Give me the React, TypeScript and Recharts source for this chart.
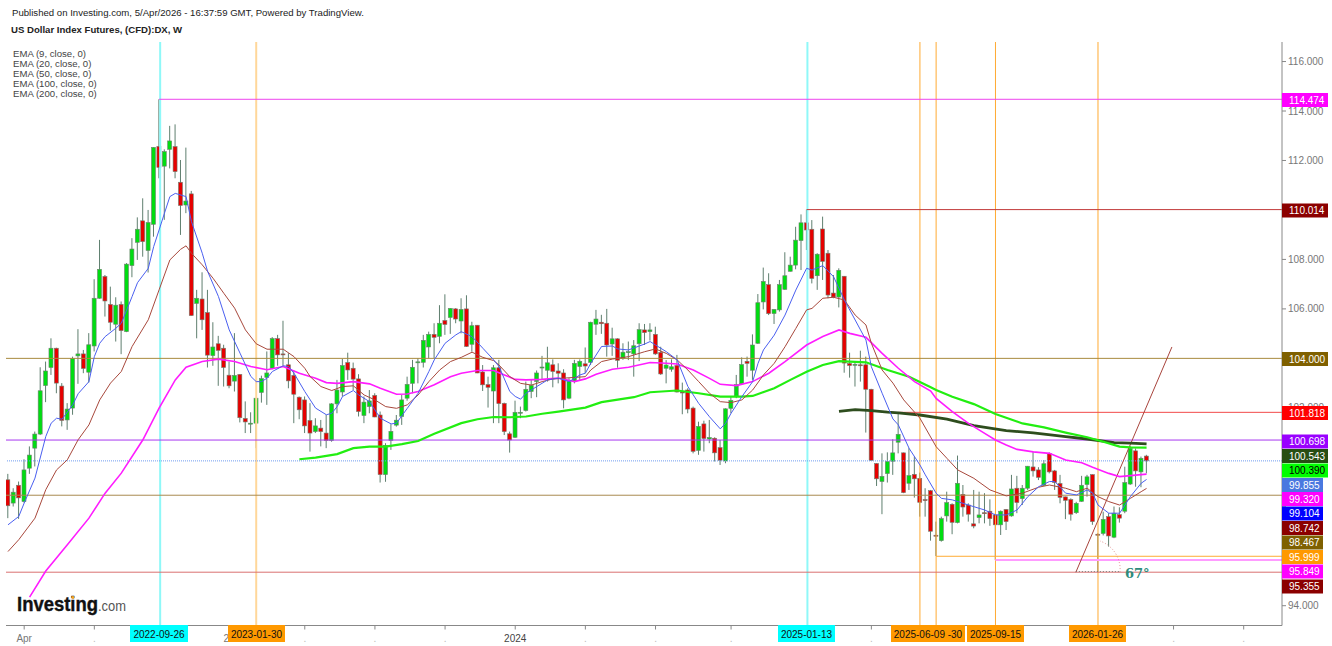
import React from 'react';
import { ComposedChart, Bar, Line, XAxis, YAxis, ReferenceLine } from 'recharts';

const FONT_FAMILY = '"Liberation Sans", Arial, sans-serif';

// weekly candles, index 0 = 2022-03-14, index 211 = 2026-03-30
const OPEN = [
    99.09, 98.15, 98.87, 98.21, 99.56, 100.37, 100.94, 102.90, 103.63, 104.41,
    102.88, 101.51, 101.99, 104.10, 104.18, 103.44, 104.50, 106.43, 107.31, 106.18,
    105.38, 106.18, 105.08, 107.75, 108.69, 109.56, 108.36, 109.42, 112.57, 111.77,
    112.45, 112.56, 111.12, 110.20, 110.65, 106.22, 106.40, 105.85, 104.11, 104.59,
    104.41, 103.32, 103.08, 103.35, 101.57, 101.34, 101.38, 102.62, 103.23, 103.60,
    104.80, 104.18, 103.74, 103.31, 102.43, 102.32, 101.49, 101.04, 101.18, 100.98,
    100.68, 102.16, 102.64, 103.83, 103.60, 103.17, 101.69, 102.05, 102.50, 101.71,
    99.30, 100.68, 101.30, 101.65, 102.39, 102.99, 103.82, 103.84, 104.46, 104.97,
    104.89, 105.53, 105.65, 106.00, 105.51, 106.00, 104.57, 105.34, 103.45, 102.94,
    102.68, 103.62, 102.18, 100.95, 100.81, 101.78, 101.89, 102.66, 103.06, 103.61,
    103.52, 103.74, 103.49, 103.41, 102.39, 103.06, 103.67, 103.78, 103.84, 105.38,
    105.46, 105.42, 104.58, 104.79, 104.00, 104.23, 104.18, 104.59, 105.15, 105.08,
    104.97, 104.24, 103.60, 103.56, 103.71, 102.64, 102.72, 101.99, 100.28, 101.35,
    100.74, 100.77, 100.39, 99.85, 101.98, 102.45, 102.97, 103.88, 103.52, 104.61,
    106.28, 106.98, 105.81, 105.96, 106.79, 107.52, 107.77, 108.76, 109.48, 109.22,
    107.34, 109.23, 108.25, 106.64, 106.48, 107.32, 103.79, 103.74, 103.74, 103.74,
    102.75, 99.75, 99.02, 99.34, 99.84, 100.61, 100.18, 98.95, 99.31, 99.15,
    98.29, 98.65, 96.85, 96.63, 97.63, 98.10, 97.36, 98.50, 98.07, 97.31,
    97.56, 97.76, 97.82, 97.67, 97.27, 97.89, 97.63, 98.75, 98.33, 98.75,
    99.61, 99.49, 98.87, 100.16, 99.45, 98.94, 98.40, 98.29, 97.76, 98.22,
    98.90, 99.30, 96.89, 96.92, 97.60, 96.77, 97.68, 97.82, 98.92, 100.26,
    99.41, 100.05,
];
const HIGH = [
    99.33, 98.75, 99.02, 99.92, 100.44, 101.04, 103.64, 103.87, 104.81, 104.43,
    103.00, 102.19, 104.07, 105.18, 104.34, 105.02, 107.20, 108.79, 107.37, 106.90,
    106.47, 106.30, 107.85, 108.86, 109.70, 110.47, 110.00, 112.53, 114.474, 112.45,
    113.40, 113.46, 112.02, 112.52, 110.77, 106.77, 107.48, 106.77, 105.46, 104.91,
    104.55, 103.87, 105.02, 103.36, 102.26, 101.82, 102.39, 103.30, 104.28, 104.86,
    104.95, 105.52, 104.21, 103.51, 102.46, 102.46, 102.19, 101.58, 101.51, 101.72,
    102.19, 103.13, 103.98, 104.23, 103.83, 103.36, 102.46, 102.72, 102.59, 101.85,
    100.57, 101.34, 101.71, 102.52, 103.26, 103.94, 104.00, 104.95, 105.08, 105.42,
    106.15, 106.59, 106.03, 106.03, 106.43, 106.55, 105.48, 105.35, 103.73, 103.26,
    103.73, 103.94, 102.21, 101.04, 102.29, 102.05, 103.06, 103.13, 103.51, 104.10,
    104.47, 103.96, 103.80, 103.56, 103.20, 103.94, 103.96, 104.44, 105.48, 105.96,
    105.76, 106.00, 105.24, 104.81, 104.61, 104.68, 104.74, 105.42, 105.39, 105.42,
    105.28, 104.47, 103.93, 103.96, 104.14, 103.02, 102.79, 102.05, 101.44, 101.48,
    101.51, 100.81, 100.70, 101.98, 102.45, 103.33, 104.04, 104.07, 104.97, 106.60,
    107.67, 107.44, 105.98, 107.17, 108.29, 108.11, 109.32, 109.82, 110.014, 109.59,
    108.25, 109.73, 108.38, 107.37, 107.64, 107.33, 104.23, 103.89, 104.31, 104.07,
    102.77, 99.76, 100.16, 100.20, 100.73, 101.78, 100.19, 100.37, 100.03, 99.38,
    98.75, 98.68, 97.40, 97.60, 98.61, 98.14, 100.07, 98.88, 98.14, 98.68,
    98.61, 98.55, 98.30, 97.74, 97.85, 97.91, 99.29, 99.25, 98.88, 99.65,
    100.23, 99.60, 99.89, 100.20, 99.49, 99.29, 98.41, 98.34, 98.20, 99.25,
    99.29, 99.31, 96.93, 97.80, 97.74, 98.01, 97.98, 99.62, 100.46, 100.36,
    100.03, 100.10,
];
const LOW = [
    97.54, 98.01, 97.51, 98.17, 99.33, 99.63, 100.90, 102.23, 103.33, 102.59,
    101.25, 101.11, 101.72, 102.97, 103.40, 103.02, 104.28, 106.41, 105.69, 105.12,
    104.68, 104.17, 105.06, 107.28, 107.98, 108.11, 107.47, 108.92, 111.28, 109.60,
    111.68, 111.28, 108.99, 109.87, 105.72, 104.81, 105.15, 103.63, 103.70, 102.89,
    102.86, 102.79, 102.66, 101.41, 100.98, 100.98, 100.37, 102.21, 102.12, 103.56,
    103.70, 103.70, 102.79, 101.38, 101.54, 100.98, 100.23, 100.98, 100.44, 100.37,
    100.63, 101.78, 102.46, 103.13, 102.72, 101.65, 101.38, 101.78, 101.62, 98.98,
    99.01, 100.30, 101.24, 101.31, 102.29, 102.59, 102.99, 103.63, 104.00, 104.00,
    104.61, 104.95, 104.99, 105.42, 105.01, 104.46, 104.27, 103.40, 102.68, 102.01,
    101.38, 101.38, 100.90, 100.19, 100.78, 101.58, 101.85, 102.39, 102.43, 103.13,
    103.06, 102.83, 102.99, 101.98, 102.35, 102.99, 103.13, 103.40, 103.73, 104.95,
    104.99, 104.07, 104.10, 103.62, 103.94, 103.93, 103.26, 103.89, 104.54, 104.72,
    104.14, 103.33, 102.99, 103.46, 102.62, 101.74, 101.78, 100.16, 100.10, 100.23,
    100.57, 99.83, 99.69, 99.76, 101.78, 102.39, 102.93, 103.26, 103.13, 104.58,
    105.98, 105.75, 105.39, 105.89, 106.77, 107.51, 107.60, 107.57, 108.38, 107.03,
    106.77, 107.17, 106.43, 106.43, 106.06, 103.42, 103.22, 102.86, 103.06, 101.00,
    99.85, 98.84, 97.70, 98.98, 99.29, 100.16, 98.55, 98.68, 98.37, 97.60,
    97.60, 96.63, 96.01, 96.59, 97.40, 96.89, 97.33, 97.60, 97.40, 97.13,
    97.33, 97.33, 97.23, 95.85, 96.86, 97.06, 97.60, 97.74, 98.07, 98.68,
    99.22, 99.08, 98.84, 99.35, 98.68, 98.14, 97.50, 97.44, 97.71, 98.20,
    98.41, 97.27, 95.355, 96.84, 96.39, 96.73, 97.36, 97.74, 98.88, 98.81,
    98.79, 99.35,
];
const CLOSE = [
    98.04, 98.59, 98.36, 99.49, 100.09, 100.94, 102.69, 103.49, 104.41, 103.00,
    101.49, 101.95, 103.99, 104.18, 103.59, 104.55, 106.43, 107.60, 106.32, 105.46,
    106.15, 105.12, 107.81, 108.42, 109.22, 108.72, 109.49, 112.53, 111.72, 112.36,
    112.79, 111.55, 110.18, 110.36, 105.73, 106.43, 105.56, 104.13, 104.46, 104.32,
    103.63, 102.89, 103.31, 101.60, 101.43, 101.38, 102.39, 103.18, 103.41, 104.80,
    104.14, 104.14, 103.09, 102.55, 101.92, 101.27, 100.98, 101.27, 101.04, 100.68,
    102.16, 102.72, 103.71, 103.53, 103.16, 101.85, 102.23, 102.28, 101.63, 99.30,
    100.48, 101.05, 101.50, 102.32, 102.95, 103.64, 103.86, 104.73, 104.97, 104.85,
    105.42, 105.37, 106.02, 105.59, 105.98, 104.48, 105.32, 103.41, 102.93, 102.83,
    103.62, 102.17, 101.04, 100.70, 101.82, 101.82, 102.75, 102.91, 103.41, 103.65,
    103.82, 103.47, 103.40, 102.32, 103.06, 103.80, 103.88, 103.69, 105.46, 105.59,
    105.40, 104.54, 104.79, 103.92, 104.25, 104.27, 104.51, 105.16, 105.04, 105.15,
    104.18, 103.37, 103.73, 103.66, 102.64, 102.62, 101.95, 100.24, 101.25, 100.76,
    100.80, 100.18, 99.88, 101.96, 102.30, 102.94, 103.75, 103.80, 104.54, 106.25,
    107.11, 105.81, 105.98, 106.98, 107.34, 107.77, 108.78, 109.48, 109.19, 107.23,
    108.21, 107.92, 106.56, 106.48, 107.56, 103.81, 103.71, 103.76, 103.71, 102.75,
    99.88, 99.13, 99.23, 99.83, 100.18, 100.93, 98.57, 99.26, 99.13, 98.18,
    98.26, 97.01, 96.82, 97.52, 98.17, 97.37, 98.95, 97.99, 97.70, 97.22,
    97.67, 97.72, 97.52, 97.27, 97.82, 97.40, 98.72, 98.17, 98.75, 99.64,
    99.45, 99.19, 99.74, 99.41, 98.98, 98.38, 98.26, 97.70, 98.14, 98.87,
    99.21, 97.40, 96.85, 97.49, 96.82, 97.74, 97.54, 98.98, 100.36, 99.45,
    99.96, 99.855,
];

// EMA readings, [week index, value]
const EMA9: [number, number][] = [
    [0, 97.27], [2, 97.61], [3, 98.15], [5, 99.16], [7, 100.84], [8, 101.38], [9, 101.58], [10, 101.54], [12, 102.12],
    [13, 102.57], [15, 103.06], [16, 104.07], [17, 104.61], [18, 104.88], [20, 105.22], [21, 105.42], [23, 106.50],
    [24, 107.06], [26, 107.64], [27, 108.52], [28, 109.19], [29, 109.87], [30, 110.54], [31, 110.67], [33, 110.54],
    [34, 109.53], [36, 108.25], [37, 107.51], [39, 106.50], [41, 105.15], [43, 104.21], [45, 103.27], [46, 103.06],
    [47, 103.06], [48, 103.20], [49, 103.47], [51, 103.70], [52, 103.67], [53, 103.40], [55, 102.66], [57, 101.99],
    [59, 101.72], [60, 101.78], [61, 102.05], [62, 102.46], [64, 102.70], [65, 102.52], [67, 102.25], [69, 101.58],
    [71, 101.35], [72, 101.38], [74, 101.98], [76, 102.59], [78, 103.47], [79, 103.94], [81, 104.61], [83, 104.95],
    [84, 105.08], [86, 104.88], [88, 104.41], [90, 103.94], [91, 103.67], [93, 102.66], [94, 102.46], [95, 102.35],
    [96, 102.59], [98, 102.86], [100, 103.13], [102, 103.20], [104, 103.06], [106, 103.33], [107, 103.40], [108, 103.80],
    [110, 104.48], [112, 104.50], [113, 104.38], [115, 104.34], [118, 104.58], [119, 104.68], [120, 104.54], [122, 104.27],
    [124, 103.94], [126, 102.86], [128, 102.18], [130, 101.64], [132, 101.15], [133, 101.38], [134, 101.78], [136, 102.45],
    [138, 103.06], [139, 103.80], [140, 104.34], [142, 104.94], [144, 105.75], [146, 106.76], [148, 107.64], [149, 107.57],
    [151, 107.75], [153, 107.30], [155, 106.36], [157, 105.55], [159, 104.74], [160, 103.66], [162, 102.59], [164, 101.55],
    [165, 101.31], [167, 100.36], [169, 99.69], [170, 99.29], [172, 98.55], [173, 98.34], [175, 98.28], [178, 98.07],
    [181, 97.87], [183, 97.67], [185, 97.67], [187, 97.87], [189, 98.41], [191, 98.81], [193, 99.02], [194, 99.02],
    [196, 98.55], [198, 98.48], [200, 98.68], [201, 98.55], [202, 98.07], [204, 97.74], [206, 97.74], [207, 98.07],
    [208, 98.41], [210, 98.95], [211, 99.104],
];
const EMA20: [number, number][] = [
    [0, 96.19], [2, 96.67], [5, 97.54], [7, 98.69], [9, 99.49], [11, 99.90], [13, 100.71], [15, 101.31], [17, 102.32],
    [19, 103.00], [21, 103.47], [23, 104.48], [26, 105.56], [28, 106.77], [30, 107.98], [32, 108.41], [33, 108.55],
    [34, 108.25], [36, 107.78], [38, 107.24], [40, 106.63], [42, 106.03], [44, 105.15], [46, 104.59], [48, 104.37],
    [51, 104.37], [53, 104.07], [55, 103.60], [56, 103.26], [58, 102.86], [60, 102.70], [62, 102.86], [64, 102.89],
    [66, 102.52], [68, 102.32], [70, 102.05], [72, 101.98], [74, 102.12], [76, 102.52], [78, 103.06], [80, 103.53],
    [82, 103.87], [84, 104.04], [86, 104.25], [88, 104.04], [90, 103.91], [91, 103.73], [93, 103.26], [95, 102.99],
    [97, 102.92], [99, 103.06], [101, 103.17], [103, 103.20], [107, 103.26], [108, 103.53], [110, 103.87], [112, 103.97],
    [115, 104.07], [118, 104.27], [120, 104.38], [122, 104.20], [124, 103.94], [126, 103.53], [128, 103.06], [130, 102.59],
    [132, 102.25], [134, 102.21], [136, 102.32], [138, 102.72], [140, 103.33], [142, 103.80], [144, 104.47], [146, 105.21],
    [148, 105.96], [149, 106.02], [151, 106.43], [153, 106.47], [155, 106.36], [157, 105.75], [159, 105.35], [160, 104.61],
    [162, 103.53], [164, 103.00], [166, 102.32], [169, 101.58], [172, 100.43], [174, 99.96], [176, 99.49], [179, 99.15],
    [182, 98.68], [185, 98.44], [188, 98.55], [191, 98.79], [193, 98.88], [196, 98.75], [198, 98.61], [200, 98.75],
    [202, 98.41], [204, 98.21], [206, 98.07], [208, 98.34], [210, 98.61], [211, 98.742],
];
const EMA50: [number, number][] = [
    [4, 94.35], [7, 95.40], [11, 96.46], [15, 97.54], [18, 98.55], [21, 99.36], [25, 100.71], [28, 101.99], [31, 103.13],
    [33, 103.64], [36, 103.87], [39, 103.97], [42, 103.87], [45, 103.67], [48, 103.54], [51, 103.67], [54, 103.40],
    [57, 103.20], [59, 103.02], [61, 102.99], [64, 103.06], [67, 102.97], [69, 102.79], [72, 102.55], [74, 102.56],
    [76, 102.66], [79, 102.93], [82, 103.26], [84, 103.40], [87, 103.51], [90, 103.51], [92, 103.33], [94, 103.15],
    [96, 103.13], [99, 103.15], [102, 103.20], [105, 103.06], [107, 103.17], [109, 103.36], [112, 103.56], [115, 103.64],
    [119, 103.83], [122, 103.80], [124, 103.77], [127, 103.53], [130, 103.19], [132, 102.95], [135, 102.90], [138, 103.06],
    [141, 103.40], [144, 103.87], [148, 104.54], [151, 104.88], [154, 105.15], [156, 105.01], [159, 104.85], [162, 104.20],
    [165, 103.60], [168, 103.06], [171, 102.68], [172, 102.38], [175, 101.85], [178, 101.37], [181, 100.97], [183, 100.70],
    [185, 100.50], [187, 100.32], [190, 100.22], [193, 100.16], [196, 99.89], [199, 99.78], [201, 99.60], [204, 99.35],
    [206, 99.22], [208, 99.26], [211, 99.32],
];
const EMA100: [number, number][] = [
    [54, 99.92], [57, 99.99], [61, 100.13], [64, 100.37], [67, 100.43], [70, 100.43], [73, 100.53], [76, 100.66], [79, 100.95],
    [84, 101.38], [87, 101.54], [90, 101.63], [93, 101.62], [96, 101.65], [99, 101.76], [102, 101.85], [107, 102.01],
    [110, 102.23], [116, 102.43], [119, 102.63], [124, 102.70], [128, 102.59], [132, 102.45], [136, 102.45], [138, 102.48],
    [142, 102.79], [145, 103.13], [148, 103.46], [151, 103.73], [154, 103.89], [159, 103.84], [163, 103.53], [167, 103.26],
    [171, 102.83], [172, 102.72], [175, 102.45], [179, 102.15], [183, 101.75], [188, 101.37], [192, 101.21], [196, 101.00],
    [200, 100.81], [203, 100.63], [206, 100.43], [208, 100.40], [211, 100.39],
];
const EMA200: [number, number][] = [
    [154, 101.86], [157, 101.93], [160, 101.89], [163, 101.83], [165, 101.80], [169, 101.71], [174, 101.54], [179, 101.28],
    [185, 101.08], [190, 100.99], [196, 100.84], [200, 100.74], [205, 100.59], [208, 100.57], [211, 100.543],
];

const PRICE_TICKS = [94, 96, 98, 100, 102, 104, 106, 108, 110, 112, 114, 116];
// these three sit fully under a price badge in the picture
const COVERED_PRICES = [96, 98, 100];
const TIME_TICKS = [3, 16, 29, 42, 55, 68, 81, 94, 107, 120, 134, 147, 160, 173, 186, 199, 216, 229];
const TIME_LABELS: Record<number, string> = { 3: 'Apr', 42: '2023', 94: '2024' };
const COVERED_TIMES = [29, 147, 173, 186, 199];

// horizontal levels: price, first week, colour
const LEVELS: [number, number, string][] = [
    [114.474, 28, '#ee44ee'],
    [110.014, 148, '#c23a3a'],
    [104.0, -1, '#a88a3e'],
    [101.818, 165, '#f24a4a'],
    [100.698, -1, '#a838f0'],
    [98.467, -1, '#a88a50'],
    [95.999, 172, '#ffab33'],
    [95.355, -1, '#d97070'],
];
const PINK_LEVEL = 95.849;
const LAST_PRICE = 99.855;
const CYAN_WEEKS = [28.2, 148.15];
const ORANGE_WEEKS = [169, 172, 183, 202];
const WIDE_ORANGE_WEEK = 46;

const PRICE_BADGES = [
    { text: '114.474', bg: '#ff00ff', fg: '#fff' },
    { text: '110.014', bg: '#8b0000', fg: '#fff' },
    { text: '104.000', bg: '#7f6000', fg: '#fff' },
    { text: '101.818', bg: '#ff0000', fg: '#fff' },
    { text: '100.698', bg: '#9900ff', fg: '#fff' },
    { text: '100.543', bg: '#274e13', fg: '#fff' },
    { text: '100.390', bg: '#00ff00', fg: '#000' },
    { text: '99.855', bg: '#4a78e0', fg: '#fff' },
    { text: '99.320', bg: '#ff00ff', fg: '#fff' },
    { text: '99.104', bg: '#0000ff', fg: '#fff' },
    { text: '98.742', bg: '#8b0000', fg: '#fff' },
    { text: '98.467', bg: '#7f6000', fg: '#fff' },
    { text: '95.999', bg: '#ff9900', fg: '#fff' },
    { text: '95.849', bg: '#ff00ff', fg: '#fff' },
    { text: '95.355', bg: '#8b0000', fg: '#fff' },
];
// the axis stacks these so they do not collide
const PRICE_BADGE_Y = [100, 210.5, 359, 413, 441.5, 456, 470.5, 485, 499, 513.5, 528, 542.5, 557, 571.5, 586.5];

const DATE_BADGES = [
    { text: '2022-09-26', bg: '#00ffff', x: 130, w: 58 },
    { text: '2023-01-30', bg: '#ff9900', x: 228, w: 57 },
    { text: '2025-01-13', bg: '#00ffff', x: 778, w: 57 },
    { text: '2025-06-09 -30', bg: '#ff9900', x: 891, w: 74 },
    { text: '2025-09-15', bg: '#ff9900', x: 967, w: 57 },
    { text: '2026-01-26', bg: '#ff9900', x: 1069, w: 57 },
];

const LEGEND = ['EMA (9, close, 0)', 'EMA (20, close, 0)', 'EMA (50, close, 0)', 'EMA (100, close, 0)', 'EMA (200, close, 0)'];

const rows: any[] = OPEN.map((open, i) => ({
    week: i,
    open,
    high: HIGH[i],
    low: LOW[i],
    close: CLOSE[i],
    range: [LOW[i], HIGH[i]],
}));
const addEma = (key: string, list: [number, number][]) => list.forEach(([w, v]) => { rows[w][key] = v; });
addEma('ema9', EMA9);
addEma('ema20', EMA20);
addEma('ema50', EMA50);
addEma('ema100', EMA100);
addEma('ema200', EMA200);

const XMIN = -0.37;
const XMAX = 236.1;

function Candle(props: any) {
    const { x, y, width, height, payload } = props;
    if (!payload) return null;
    const cx = x + width / 2;
    const unit = height / (payload.high - payload.low);
    const top = y + (payload.high - Math.max(payload.open, payload.close)) * unit;
    const bodyH = Math.max(Math.abs(payload.open - payload.close) * unit, 1);
    const up = payload.close >= payload.open;
    return (
        <g>
            <line x1={cx} x2={cx} y1={y} y2={y + height} stroke="#5f7f6f" strokeWidth={1} />
            <rect x={cx - 2} y={top} width={4} height={bodyH} fill={up ? '#00dd11' : '#e60000'} stroke="#6f7f70" strokeWidth={0.6} />
        </g>
    );
}

function TimeTick(props: any) {
    const { x, y, payload } = props;
    if (COVERED_TIMES.includes(payload.value)) return <g />;
    const label = TIME_LABELS[payload.value];
    const fill = label === '2024' ? '#444' : label ? '#777' : '#bbb';
    return (
        <text x={x} y={y + 10} textAnchor="middle" fontSize={10} fill={fill}>{label ?? '.'}</text>
    );
}

function Overlay() {
    return (
        <svg width={1332} height={646} style={{ position: 'absolute', left: 0, top: 0, fontFamily: FONT_FAMILY }}>
            <text x={12} y={16} fontSize={9.6} fill="#222">Published on Investing.com, 5/Apr/2026 - 16:37:59 GMT, Powered by TradingView.</text>
            <text x={11} y={33} fontSize={9.6} fontWeight={700} fill="#222">US Dollar Index Futures, (CFD):DX, W</text>
            {LEGEND.map((t, i) => (
                <text key={t} x={13} y={56.5 + i * 10} fontSize={9.6} fill="#444">{t}</text>
            ))}

            <path d="M1120 572 A 30 30 0 0 0 1100 541" fill="none" stroke="#e08a8a" strokeWidth={1} strokeDasharray="1 2" />
            <text x={1125} y={578} fontSize={13} fontWeight={700} fill="#2e8b7b" fontFamily='"DejaVu Serif", serif'>67°</text>

            <text x={17} y={611} fontSize={21} fontWeight={700} fill="#111" stroke="#111" strokeWidth={0.4} textLength={81} lengthAdjust="spacingAndGlyphs">Investing</text>
            <text x={98} y={611} fontSize={15} fill="#555" textLength={28} lengthAdjust="spacingAndGlyphs">.com</text>
            <circle cx={73} cy={597.5} r={1.4} fill="#f5a623" />

            {PRICE_BADGES.map((b, i) => (
                <g key={b.text}>
                    <rect x={1282} y={PRICE_BADGE_Y[i] - 7} width={b.text.length > 6 ? 46 : 41} height={14} fill={b.bg} />
                    <text x={1289} y={PRICE_BADGE_Y[i] + 3.5} fontSize={10} fill={b.fg}>{b.text}</text>
                </g>
            ))}
            {DATE_BADGES.map((b) => (
                <g key={b.text}>
                    <rect x={b.x} y={625} width={b.w} height={17} fill={b.bg} />
                    <text x={b.x + b.w / 2} y={638} fontSize={10} textAnchor="middle" fill="#111">{b.text}</text>
                </g>
            ))}
        </svg>
    );
}

export default function App() {
    return (
        <div style={{ position: 'absolute', left: 0, top: 0, width: 1332, height: 646, background: '#fff', fontFamily: FONT_FAMILY }}>
            <ComposedChart width={1332} height={646} data={rows} margin={{ top: 42, right: 0, bottom: 0, left: 6 }}>
                <XAxis dataKey="week" type="number" domain={[XMIN, XMAX]} allowDataOverflow ticks={TIME_TICKS} interval={0}
                    height={20.5} tick={<TimeTick />} tickSize={4} stroke="#888" />
                <YAxis orientation="right" type="number" domain={[93.2, 116.79]} allowDataOverflow ticks={PRICE_TICKS} interval={0}
                    width={50} tickSize={4} stroke="#888" tick={{ fill: '#777', fontSize: 10 }}
                    tickFormatter={(v: number) => (COVERED_PRICES.includes(v) ? '' : v.toFixed(3))} />

                {CYAN_WEEKS.map((w) => <ReferenceLine key={w} x={w} stroke="#8ff8f8" strokeWidth={2} />)}
                <ReferenceLine x={WIDE_ORANGE_WEEK} stroke="#ffd79a" strokeWidth={2} />
                {ORANGE_WEEKS.map((w) => <ReferenceLine key={w} x={w} stroke="#ffaa33" strokeWidth={1} />)}
                {LEVELS.map(([p, from, c]) => (
                    <ReferenceLine key={p} segment={[{ x: from < 0 ? XMIN : from, y: p }, { x: XMAX, y: p }]} stroke={c} strokeWidth={1} />
                ))}
                <ReferenceLine segment={[{ x: 183, y: PINK_LEVEL }, { x: XMAX, y: PINK_LEVEL }]} stroke="#ff9cff" strokeWidth={2} />
                <ReferenceLine y={LAST_PRICE} stroke="#6f9cf0" strokeWidth={1} strokeDasharray="1 1" />
                <ReferenceLine segment={[{ x: 197.9, y: 95.355 }, { x: 215.7, y: 104.46 }]} stroke="#a8443c" strokeWidth={1} />
                <ReferenceLine segment={[{ x: 197.9, y: 95.38 }, { x: 206.1, y: 95.38 }]} stroke="#777" strokeWidth={1} strokeDasharray="1 2" />

                <Bar dataKey="range" barSize={5} shape={Candle} isAnimationActive={false} />

                <Line dataKey="ema200" stroke="#2e4d1e" strokeWidth={2.8} dot={false} connectNulls isAnimationActive={false} />
                <Line dataKey="ema100" stroke="#22ee11" strokeWidth={2.2} dot={false} connectNulls isAnimationActive={false} />
                <Line dataKey="ema50" stroke="#ff1cff" strokeWidth={1.6} dot={false} connectNulls isAnimationActive={false} />
                <Line dataKey="ema20" stroke="#a8483c" strokeWidth={1} dot={false} connectNulls isAnimationActive={false} />
                <Line dataKey="ema9" stroke="#4a5ff0" strokeWidth={1} dot={false} connectNulls isAnimationActive={false} />
            </ComposedChart>
            <Overlay />
        </div>
    );
}
